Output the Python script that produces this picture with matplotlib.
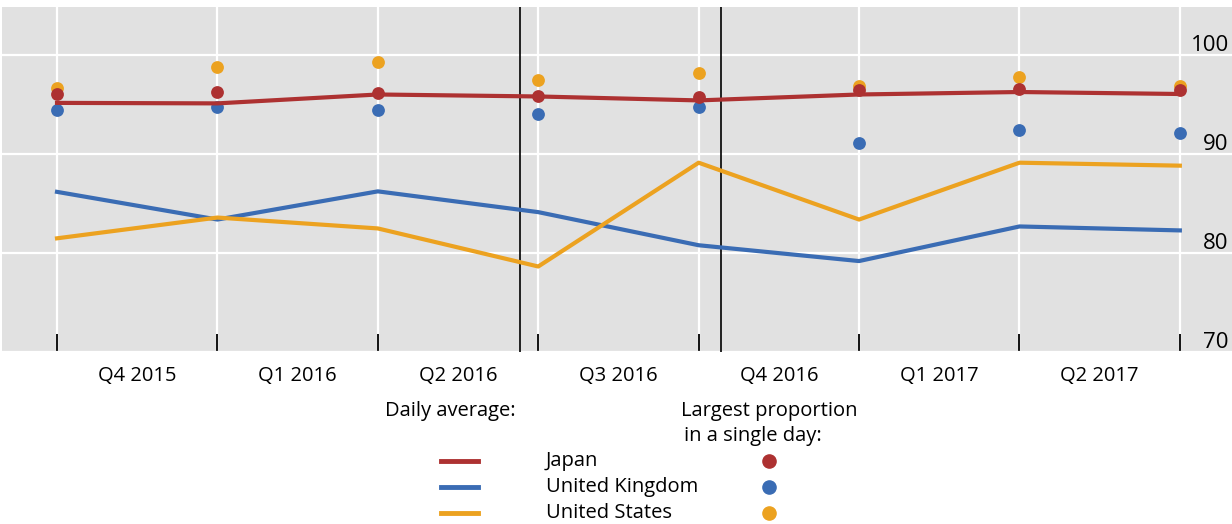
import matplotlib.pyplot as plt
from matplotlib.lines import Line2D

plt.rcParams['font.family'] = ['Open Sans', 'DejaVu Sans']

# x positions: quarter boundaries, 0 = start of Q4 2015
quarters = ['Q4 2015', 'Q1 2016', 'Q2 2016', 'Q3 2016', 'Q4 2016', 'Q1 2017', 'Q2 2017']
x = [0, 1, 2, 3, 4, 5, 6, 7]
events = [2.887, 4.140]

# daily average (lines)
japan_avg = [95.2, 95.15, 96.05, 95.85, 95.45, 96.05, 96.3, 96.1]
uk_avg = [86.2, 83.4, 86.25, 84.15, 80.8, 79.2, 82.7, 82.3]
us_avg = [81.5, 83.6, 82.5, 78.65, 89.15, 83.4, 89.15, 88.85]

# largest proportion in a single day (dots)
japan_max = [96.1, 96.3, 96.2, 95.9, 95.75, 96.55, 96.6, 96.5]
uk_max = [94.45, 94.8, 94.45, 94.05, 94.8, 91.1, 92.5, 92.2]
us_max = [96.7, 98.8, 99.3, 97.55, 98.2, 96.95, 97.85, 96.95]

RED = '#AD3131'
BLUE = '#3A6CB4'
ORANGE = '#ECA220'

W, H = 1232, 524
fig = plt.figure(figsize=(W / 100, H / 100), dpi=100)
ax = fig.add_axes([2 / W, 1 - 352 / H, 1 - 2 / W, (352 - 7) / H])
ax.set_facecolor('#E1E1E1')
for s in ax.spines.values():
    s.set_visible(False)

ax.set_xlim(-0.343, 7.325)
ax.set_ylim(70, 104.9)

ax.set_xticks(x)
ax.set_xticklabels([])
ax.set_xticks([i + 0.5 for i in range(len(quarters))], minor=True)
ax.set_xticklabels(quarters, minor=True, fontsize=14.5, fontweight='medium')
ax.tick_params(axis='x', which='major', direction='in', length=13, width=1.3, color='black', pad=0)
ax.tick_params(axis='x', which='minor', length=0, pad=10)

ax.set_yticks([70, 80, 90, 100])
ax.set_yticklabels([])
ax.tick_params(axis='y', length=0)
for v in [70, 80, 90, 100]:
    ax.text(7.305, v + 0.45, str(v), ha='right', va='baseline', fontsize=16, fontweight='medium')

ax.grid(True, which='major', color='white', linewidth=1.6)
ax.set_axisbelow(True)

for e in events:
    ax.axvline(e, color='black', linewidth=1.2, zorder=2)

ax.scatter(x, us_max, s=85, color=ORANGE, zorder=3, linewidths=0)
ax.scatter(x, uk_max, s=85, color=BLUE, zorder=3, linewidths=0)
ax.scatter(x, japan_max, s=85, color=RED, zorder=3, linewidths=0)

ax.plot(x, japan_avg, color=RED, linewidth=3, zorder=4)
ax.plot(x, uk_avg, color=BLUE, linewidth=3, zorder=4)
ax.plot(x, us_avg, color=ORANGE, linewidth=3, zorder=4)

# legend laid out in pixel coordinates
lg = fig.add_axes([0, 0, 1, 1])
lg.set_xlim(0, W)
lg.set_ylim(H, 0)
lg.axis('off')
kw = dict(fontsize=14.5, fontweight='medium', va='center')
lg.text(385, 411, 'Daily average:', **kw)
lg.text(681, 411, 'Largest proportion', **kw)
lg.text(684, 436, 'in a single day:', **kw)
names = ['Japan', 'United Kingdom', 'United States']
colors = [RED, BLUE, ORANGE]
for i, (n, c) in enumerate(zip(names, colors)):
    yy = 461 + 26 * i
    lg.add_line(Line2D([441, 478], [yy, yy], color=c, linewidth=3.5))
    lg.text(546, yy, n, **kw)
    lg.plot([769], [yy], 'o', color=c, markersize=9.5)

fig.savefig('out.png', dpi=100)
